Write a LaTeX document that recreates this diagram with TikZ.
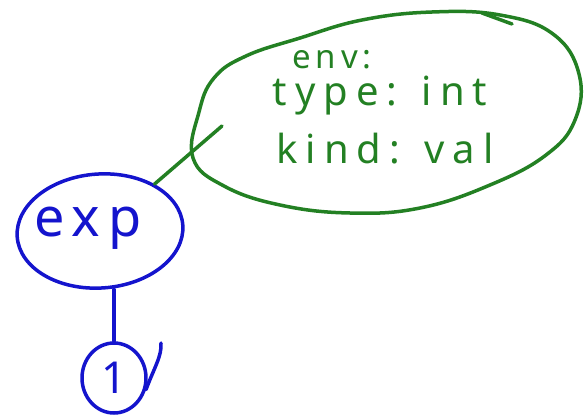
\documentclass[tikz,border=0pt]{standalone}
\usepackage{fontspec}
\setmainfont{Noto Sans}
\usetikzlibrary{shapes.geometric}
\definecolor{penblue}{RGB}{20,20,205}
\definecolor{pengreen}{RGB}{35,128,35}
\tikzset{
  bluepen/.style={draw=penblue, line width=3.5pt, line cap=round, line join=round},
  greenpen/.style={draw=pengreen, line width=3.5pt, line cap=round, line join=round},
  bigtext/.style={font=\fontsize{54}{60}\selectfont\addfontfeatures{LetterSpace=15}},
  onetext/.style={font=\fontsize{44}{50}\selectfont},
  notetext/.style={font=\fontsize{40}{46}\selectfont\addfontfeatures{LetterSpace=20}},
  smalltext/.style={font=\fontsize{33}{38}\selectfont\bfseries\addfontfeatures{LetterSpace=15}},
}
\begin{document}
\begin{tikzpicture}[x=1pt,y=-1pt]
\useasboundingbox (0,0) rectangle (584,420);
% blue tree
\node[bluepen, ellipse, minimum width=166pt, minimum height=114pt, inner sep=0pt, rotate=4] (exp) at (100,231) {};
\node[text=penblue, bigtext, inner sep=0pt] (explbl) at (88,228) {exp};
\node[bluepen, ellipse, minimum width=64pt, minimum height=70pt, inner sep=0pt,
      text=penblue, onetext] (one) at (114,378) {1};
\draw[bluepen] (one) -- (one |- exp.south);
\draw[bluepen] (one.-20) .. controls (154,368) and (162,356) .. (161,343);
% green annotation
\draw[greenpen] plot[smooth cycle, tension=0.7] coordinates {
  (193,158) (199,112) (214,78) (246,56) (300,38) (362,20) (432,12) (500,15)
  (553,34) (579,74) (575,120) (546,155) (490,185) (420,208) (350,213)
  (280,205) (224,186)};
\draw[greenpen] (482,13) -- (512,24);
\coordinate (env) at (222,126);
\node[text=pengreen, smalltext, inner sep=0pt, anchor=base] (envlbl) at (332,69) {env:};
\node[text=pengreen, notetext, inner sep=0pt, anchor=base] (typelbl) at (380,106) {type: int};
\node[text=pengreen, notetext, inner sep=0pt, anchor=base] (kindlbl) at (385,163) {kind: val};
\draw[greenpen] (exp) -- (env);
\end{tikzpicture}
\end{document}
